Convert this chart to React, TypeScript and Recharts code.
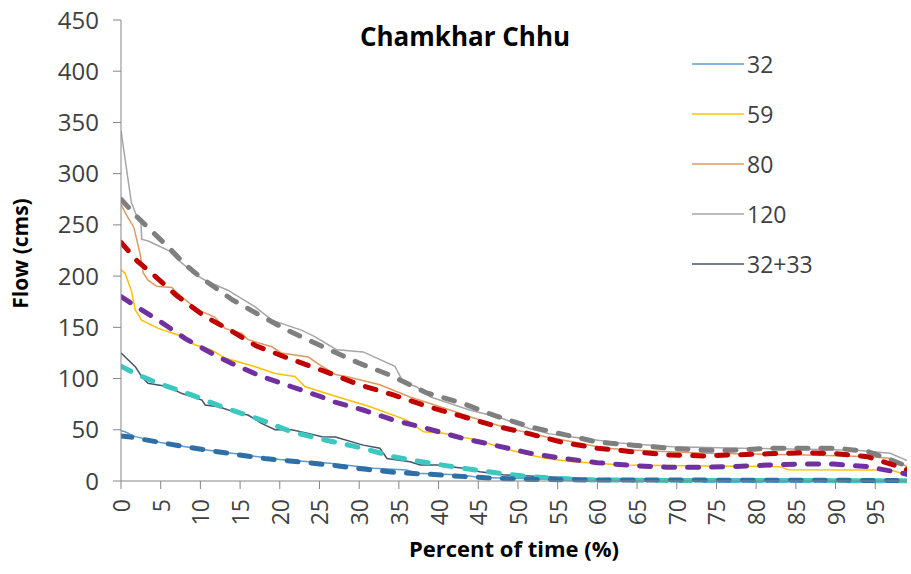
import { LineChart, Line, XAxis, YAxis, Label } from "recharts";

const pctTicks = [0, 5, 10, 15, 20, 25, 30, 35, 40, 45, 50, 55, 60, 65, 70, 75, 80, 85, 90, 95];
const flowTicks = [0, 50, 100, 150, 200, 250, 300, 350, 400, 450];

// observed (thin lines)
const obs120X = [0, 1.3, 2, 2.5, 2.6, 3.5, 6, 7, 8.4, 9, 10.6, 13.5, 16.9, 19, 22.8, 24.4, 26.1, 27.2, 30.5, 34.5, 35.5, 37.2, 39, 44, 47.7, 51.5, 54, 57.8, 62.8, 69.5, 78, 86.4, 92.7, 96.9, 99];
const obs120Y = [342, 272, 258, 256, 236, 234, 225, 217, 208, 203, 196, 186, 170, 157, 147, 141, 133, 128, 126, 112, 97, 92, 82, 69, 62, 51, 46, 42, 37, 33.5, 32, 31, 30, 27, 20];

const obs80X = [0, 0.8, 1.6, 2.4, 2.8, 3.4, 4.5, 6.4, 7.6, 9.7, 11.8, 13.1, 15.2, 16, 19, 20.2, 23.6, 25.3, 27, 28.4, 32.6, 36.4, 40.2, 45.2, 49, 53.6, 57, 61, 66, 73.8, 86.4, 94.7, 97, 99];
const obs80Y = [270, 258, 248, 222, 203, 196, 190, 189, 180, 167, 160, 149, 144, 138, 131, 125, 121, 112, 104, 102, 94, 82, 72.5, 59.5, 51, 43, 38, 32, 29.5, 27, 25.4, 23.7, 22, 14];

const obs59X = [0, 0.5, 1.3, 1.8, 2.6, 4.7, 7.2, 9.3, 11.4, 13.1, 16.9, 19.4, 21.9, 23.2, 26.5, 31.4, 36, 38.1, 40.6, 44.8, 49, 51.5, 53.6, 57, 63.2, 73.8, 83, 84, 96.9, 99];
const obs59Y = [206, 203, 186, 167, 157, 149, 142.5, 133, 128, 120, 111.6, 105, 102, 92, 84, 72.5, 59.5, 48, 46.5, 40, 30.3, 25.4, 22, 18.8, 15.6, 14.6, 14, 11, 10.7, 6];

const obs3233X = [0, 1.8, 2.6, 3.4, 4.7, 6, 7.6, 10.2, 10.6, 12.3, 14.8, 16, 17.7, 19.4, 21.5, 23.6, 25.3, 27, 30.5, 32.6, 33.5, 36.4, 37.7, 39.8, 43.1, 45.2, 48.1, 53.6, 60, 70, 99];
const obs3233Y = [125, 111.6, 102, 95.4, 93.7, 92, 85.6, 79, 74.2, 72.5, 66, 64.4, 56.3, 50, 50, 46.5, 43.3, 43, 35, 32, 22, 18.8, 15.6, 15.6, 12.4, 9, 6, 4.2, 2, 1, 0.5];

const obs32X = [0, 0.5, 1.8, 5, 10, 15, 20, 26.3, 31.8, 36, 37.2, 43.1, 45.2, 49.4, 55, 60, 99];
const obs32Y = [49, 48, 43.3, 37.5, 31, 26, 21, 17.3, 12.4, 10.7, 7.5, 5.9, 3.3, 2.6, 1.5, 1, 0.5];

// simulated (thick dashed lines)
const sim120X = [0, 2, 4, 6, 8, 10, 14, 17, 21, 26, 30, 34, 38.5, 43, 47, 51.5, 56, 60, 64.5, 69, 74, 77, 82, 86, 90, 94, 98.5, 99];
const sim120Y = [275, 258, 243, 228, 212, 199, 177, 164, 147, 129, 115, 103, 86, 76, 64, 53, 45, 38, 35, 32, 30, 30, 32, 32, 32, 29, 16, 13];

const sim80X = [0, 2, 4, 7, 10.5, 14, 17, 21, 25.7, 30, 34.3, 38.5, 43, 47, 51.5, 55.7, 60, 64.4, 68.8, 73.4, 77, 81.5, 86, 89.7, 94, 98.5, 99];
const sim80Y = [233, 215, 202, 181, 161, 146, 132, 120, 107, 94, 84, 73, 63, 54, 46, 37.5, 32, 28.6, 25.5, 24.5, 25.5, 26.5, 27.6, 27, 23.7, 12.7, 11];

const sim59X = [0, 2, 4.7, 8.1, 11.8, 13.9, 17.7, 21.5, 25.3, 26.7, 30.5, 34.3, 38.5, 43, 47, 51.6, 55.7, 60, 64.5, 68.8, 73.4, 77, 81.5, 86, 89.7, 94, 98.5, 99];
const sim59Y = [180, 170, 157, 139, 123, 115, 102, 92, 82, 77.5, 69.3, 59.5, 51.4, 41.7, 35, 27, 22, 17.9, 15, 13.4, 13.4, 14, 15.6, 16.6, 16.6, 14, 7.5, 6.5];

const sim3233X = [0, 2, 4.7, 8.9, 12.7, 17.7, 21.5, 25.7, 30.5, 34.3, 39, 43.1, 47.7, 51.5, 55, 60, 70, 99];
const sim3233Y = [112, 104, 95.4, 84, 72.5, 59.5, 48, 40, 32, 23.7, 17.3, 12.4, 7.5, 4.2, 2.5, 1, 0.5, 0.3];

const sim32X = [0, 0.9, 5.5, 9.3, 13.5, 18.1, 22.3, 26.3, 30.9, 35, 39, 43.5, 47.3, 52, 60, 80, 99];
const sim32Y = [44, 43.3, 36.8, 32, 27, 22, 18.8, 15.6, 11.4, 8.1, 6.5, 4.2, 2.6, 1.5, 1, 0.8, 0.5];

const toPoints = (xs: number[], ys: number[]) => xs.map((x, i) => ({ x, y: ys[i] }));

const observed = [
  { name: "32", color: "#5b9bd5", xs: obs32X, ys: obs32Y },
  { name: "59", color: "#ffc000", xs: obs59X, ys: obs59Y },
  { name: "80", color: "#dc9a60", xs: obs80X, ys: obs80Y },
  { name: "120", color: "#a6a6a6", xs: obs120X, ys: obs120Y },
  { name: "32+33", color: "#44546a", xs: obs3233X, ys: obs3233Y },
];

const simulated = [
  { name: "sim 120", color: "#7f7f7f", xs: sim120X, ys: sim120Y },
  { name: "sim 80", color: "#c00000", xs: sim80X, ys: sim80Y },
  { name: "sim 59", color: "#7030a0", xs: sim59X, ys: sim59Y },
  { name: "sim 32+33", color: "#3cc8c0", xs: sim3233X, ys: sim3233Y },
  { name: "sim 32", color: "#2e6fa8", xs: sim32X, ys: sim32Y },
];

const font = "'Open Sans', sans-serif";

const XTick = (props: any) => {
  const { x, y, payload } = props;
  return (
    <text x={x} y={y} transform={`rotate(-90 ${x} ${y})`} textAnchor="end" dominantBaseline="central"
      fontSize={23} fill="#404040" fontFamily={font}>
      {payload.value}
    </text>
  );
};

export default function App() {
  return (
    <div style={{ position: "absolute", left: 0, top: 0 }}>
      <LineChart width={911} height={574} margin={{ top: 20, right: 4, left: 0, bottom: 0 }}>
        <XAxis type="number" dataKey="x" domain={[0, 99]} ticks={pctTicks} interval={0} height={93}
          stroke="#868686" tickSize={8} tickMargin={10} tick={<XTick />} allowDataOverflow>
          <Label content={(p: any) => (
            <text x={p.viewBox.x + p.viewBox.width / 2} y={p.viewBox.y + 76} textAnchor="middle"
              fontSize={22} fontWeight="bold" fontFamily={font} fill="#000">Percent of time (%)</text>
          )} />
        </XAxis>
        <YAxis type="number" domain={[0, 450]} ticks={flowTicks} interval={0} width={121}
          stroke="#868686" tickSize={8} tickMargin={14}
          tick={{ fontSize: 24, fill: "#404040", fontFamily: font }}>
          <Label content={(p: any) => {
            const cx = 20;
            const cy = p.viewBox.y + p.viewBox.height / 2 + 3;
            return (
              <text x={cx} y={cy} transform={`rotate(-90 ${cx} ${cy})`} textAnchor="middle" dominantBaseline="central"
                fontSize={21} fontWeight="bold" fontFamily={font} fill="#000">Flow (cms)</text>
            );
          }} />
        </YAxis>
        {observed.map((s) => (
          <Line key={s.name} data={toPoints(s.xs, s.ys)} dataKey="y" name={s.name} type="linear"
            stroke={s.color} strokeWidth={1.5} dot={false} isAnimationActive={false} />
        ))}
        {simulated.map((s) => (
          <Line key={s.name} data={toPoints(s.xs, s.ys)} dataKey="y" name={s.name} type="linear"
            stroke={s.color} strokeWidth={5} strokeDasharray="11 13" strokeLinecap="round"
            dot={false} isAnimationActive={false} legendType="none" />
        ))}
        <text x={465} y={36} textAnchor="middle" dominantBaseline="central" fontSize={26} fontWeight="bold"
          fontFamily={font} fill="#000">Chamkhar Chhu</text>
        <g>
          {observed.map((s, i) => (
            <g key={s.name}>
              <line x1={692} x2={744} y1={64 + i * 50} y2={64 + i * 50} stroke={s.color} strokeWidth={1.5} />
              <text x={747} y={64 + i * 50} dominantBaseline="central" fontSize={23} fill="#404040" fontFamily={font}>
                {s.name}
              </text>
            </g>
          ))}
        </g>
      </LineChart>
    </div>
  );
}
